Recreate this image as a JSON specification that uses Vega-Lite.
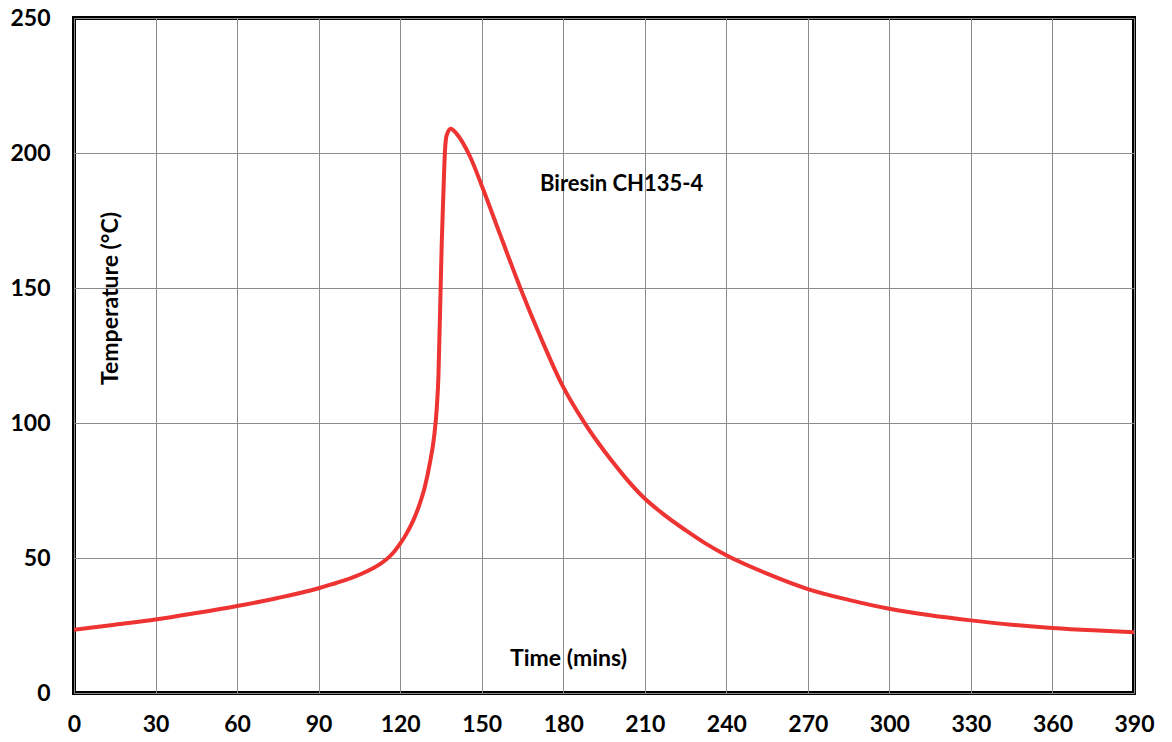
{
  "$schema": "https://vega.github.io/schema/vega-lite/v6.json",
  "autosize": {"type": "none"},
  "padding": {"left": 74, "top": 18, "right": 38, "bottom": 49},
  "width": 1060,
  "height": 675,
  "background": "white",
  "config": {
    "view": {"stroke": "black", "strokeWidth": 4},
    "font": "Lato",
    "axis": {
      "domain": false,
      "ticks": false,
      "gridColor": "#8c8c8c",
      "gridWidth": 1,
      "gridOpacity": 1,
      "labelFont": "Lato",
      "labelFontWeight": "bold",
      "labelFontSize": 23,
      "labelColor": "black",
      "labelFlush": false,
      "titleFont": "Lato",
      "titleFontWeight": "bold",
      "titleFontSize": 23,
      "titleColor": "black"
    }
  },
  "layer": [
    {
      "data": {
        "values": [
          {"t": 0, "T": 23.4},
          {"t": 15, "T": 25.3},
          {"t": 30, "T": 27.2},
          {"t": 45, "T": 29.6},
          {"t": 60, "T": 32.2},
          {"t": 75, "T": 35.2},
          {"t": 90, "T": 38.8},
          {"t": 95, "T": 40.3},
          {"t": 100, "T": 41.9},
          {"t": 105, "T": 43.8},
          {"t": 110, "T": 46.2},
          {"t": 113, "T": 48.0},
          {"t": 116, "T": 50.4},
          {"t": 118, "T": 52.6},
          {"t": 120, "T": 55.3},
          {"t": 122.5, "T": 59.3},
          {"t": 125, "T": 64.3},
          {"t": 127, "T": 69.5},
          {"t": 129, "T": 76.0},
          {"t": 131, "T": 85.5},
          {"t": 132.5, "T": 95.0},
          {"t": 133.5, "T": 106.0},
          {"t": 134.1, "T": 118.0},
          {"t": 134.4, "T": 130.0},
          {"t": 134.7, "T": 141.7},
          {"t": 135.3, "T": 166.4},
          {"t": 135.9, "T": 184.9},
          {"t": 136.5, "T": 200.9},
          {"t": 137.1, "T": 206.5},
          {"t": 138.6, "T": 209.0},
          {"t": 140.8, "T": 207.1},
          {"t": 145.7, "T": 198.7},
          {"t": 150, "T": 188.0},
          {"t": 156.7, "T": 170.0},
          {"t": 164.1, "T": 150.3},
          {"t": 172, "T": 131.0},
          {"t": 179.4, "T": 114.5},
          {"t": 188, "T": 99.8},
          {"t": 193, "T": 92.5},
          {"t": 198, "T": 85.8},
          {"t": 203, "T": 79.6},
          {"t": 209.5, "T": 72.5},
          {"t": 216, "T": 66.9},
          {"t": 225, "T": 60.3},
          {"t": 232, "T": 55.6},
          {"t": 240, "T": 51.0},
          {"t": 255, "T": 44.2},
          {"t": 270, "T": 38.5},
          {"t": 285, "T": 34.5},
          {"t": 300, "T": 31.2},
          {"t": 315, "T": 28.8},
          {"t": 330, "T": 26.9},
          {"t": 345, "T": 25.3},
          {"t": 360, "T": 24.1},
          {"t": 375, "T": 23.2},
          {"t": 390, "T": 22.5}
        ]
      },
      "mark": {"type": "line", "color": "#EE3333", "strokeWidth": 4, "interpolate": "monotone", "clip": true},
      "encoding": {
        "x": {
          "field": "t", "type": "quantitative",
          "scale": {"domain": [0, 390], "nice": false, "zero": false},
          "axis": {
            "values": [0, 30, 60, 90, 120, 150, 180, 210, 240, 270, 300, 330, 360, 390],
            "labelPadding": 20,
            "title": "Time (mins)",
            "titleX": 494,
            "titleY": -35,
            "titleAnchor": null,
            "titleAlign": "center",
            "titleBaseline": "middle"
          }
        },
        "y": {
          "field": "T", "type": "quantitative",
          "scale": {"domain": [0, 250], "nice": false},
          "axis": {
            "values": [0, 50, 100, 150, 200, 250],
            "labelPadding": 24,
            "title": "Temperature (°C)",
            "titleAngle": -90,
            "titleX": 36,
            "titleY": 280,
            "titleAlign": "center",
            "titleBaseline": "middle"
          }
        }
      }
    },
    {
      "data": {"values": [{"label": "Biresin CH135-4", "t": 201.5, "T": 188.6}]},
      "mark": {"type": "text", "font": "Lato", "fontWeight": "bold", "fontSize": 22, "color": "black", "align": "center", "baseline": "middle"},
      "encoding": {
        "x": {"field": "t", "type": "quantitative"},
        "y": {"field": "T", "type": "quantitative"},
        "text": {"field": "label"}
      }
    }
  ]
}
